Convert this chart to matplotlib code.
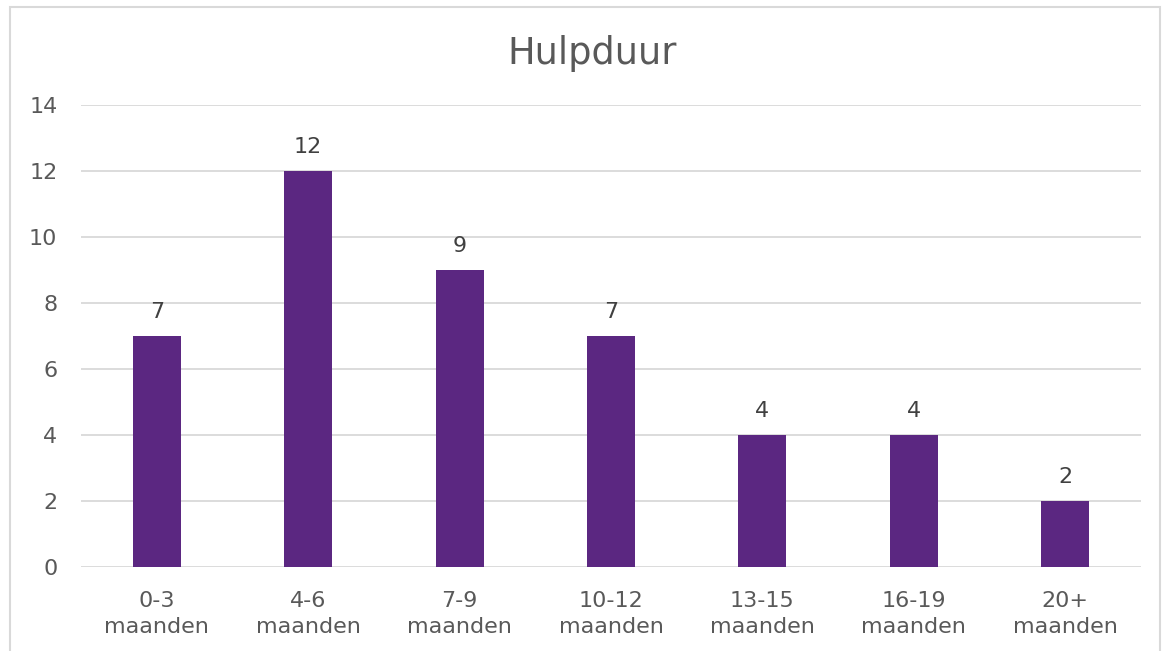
import matplotlib

matplotlib.use("Agg")
import matplotlib.pyplot as plt
from matplotlib.patches import Rectangle

plt.rcParams["font.family"] = ["DejaVu Sans"]

C_BAR = "#5B2781"
C_TEXT = "#595959"
C_GRID = "#D9D9D9"

categories = ["0-3\nmaanden", "4-6\nmaanden", "7-9\nmaanden", "10-12\nmaanden",
              "13-15\nmaanden", "16-19\nmaanden", "20+\nmaanden"]
values = [7, 12, 9, 7, 4, 4, 2]
yticks = [0, 2, 4, 6, 8, 10, 12, 14]

W, H = 1165, 651
fig = plt.figure(figsize=(W / 100, H / 100), dpi=100)
fig.patch.set_facecolor("white")

# chart border (bottom edge sits outside the image)
fig.add_artist(Rectangle((9.5 / W, -0.05), 1150 / W, 1.05 - 7.5 / H, transform=fig.transFigure,
                         fill=False, edgecolor=C_GRID, lw=1.5))

ax = fig.add_axes([81 / W, (H - 567) / H, 1060 / W, 462 / H])
x = range(len(categories))
bars = ax.bar(x, values, width=0.317, color=C_BAR, zorder=3)
ax.set_xlim(-0.5, len(categories) - 0.5)
ax.set_ylim(0, 14)
ax.set_yticks(yticks)
ax.set_xticks(list(x))
ax.set_xticklabels(categories, linespacing=1.4)
ax.tick_params(axis="both", length=0, labelsize=16, colors=C_TEXT)
ax.tick_params(axis="y", pad=17)
ax.tick_params(axis="x", pad=17)
for s in ax.spines.values():
    s.set_visible(False)
ax.grid(axis="y", color=C_GRID, lw=1.3, zorder=0)
ax.set_axisbelow(True)

for b, v in zip(bars, values):
    ax.annotate(str(v), (b.get_x() + b.get_width() / 2, v), xytext=(0, 10),
                textcoords="offset points", ha="center", va="bottom",
                fontsize=16, color="#404040")

fig.text(592 / W, (H - 53) / H, "Hulpduur", ha="center", va="center", fontsize=26.5, color=C_TEXT)

fig.savefig("out.png", dpi=100, facecolor="white")
